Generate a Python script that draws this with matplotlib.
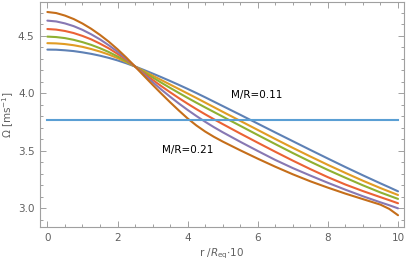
import matplotlib
matplotlib.use("Agg")
import matplotlib.pyplot as plt
from matplotlib.ticker import MultipleLocator

# ---- data ----
r = [0.0, 0.25, 0.5, 0.75, 1.0, 1.25, 1.5, 1.75, 2.0, 2.25, 2.5,
     2.75, 3.0, 3.25, 3.5, 3.75, 4.0, 4.25, 4.5, 4.75, 5.0,
     5.5, 6.0, 6.5, 7.0, 7.5, 8.0, 8.5, 9.0, 9.5, 9.75, 10.0]

omega_011 = [4.381, 4.380, 4.375, 4.368, 4.357, 4.344, 4.328, 4.309, 4.287, 4.262, 4.234,
             4.204, 4.173, 4.141, 4.108, 4.074, 4.039, 4.003, 3.966, 3.928, 3.890,
             3.814, 3.737, 3.660, 3.584, 3.508, 3.433, 3.359, 3.287, 3.217, 3.183, 3.148]
omega_013 = [4.437, 4.435, 4.429, 4.419, 4.405, 4.386, 4.364, 4.338, 4.307, 4.273, 4.234,
             4.194, 4.155, 4.116, 4.077, 4.038, 3.999, 3.960, 3.920, 3.880, 3.840,
             3.761, 3.682, 3.603, 3.526, 3.451, 3.378, 3.308, 3.240, 3.176, 3.146, 3.116]
omega_015 = [4.494, 4.490, 4.481, 4.466, 4.446, 4.422, 4.393, 4.360, 4.322, 4.280, 4.234,
             4.186, 4.139, 4.093, 4.048, 4.004, 3.961, 3.919, 3.878, 3.838, 3.798,
             3.718, 3.638, 3.559, 3.481, 3.406, 3.334, 3.266, 3.200, 3.138, 3.110, 3.082]
omega_017 = [4.560, 4.555, 4.543, 4.525, 4.500, 4.470, 4.433, 4.392, 4.344, 4.292, 4.234,
             4.175, 4.118, 4.063, 4.010, 3.959, 3.910, 3.863, 3.818, 3.775, 3.733,
             3.651, 3.571, 3.492, 3.415, 3.341, 3.271, 3.207, 3.150, 3.097, 3.071, 3.044]
omega_019 = [4.633, 4.626, 4.609, 4.585, 4.553, 4.514, 4.470, 4.419, 4.363, 4.301, 4.234,
             4.165, 4.098, 4.033, 3.971, 3.912, 3.856, 3.803, 3.753, 3.706, 3.662,
             3.579, 3.499, 3.421, 3.350, 3.285, 3.222, 3.162, 3.105, 3.052, 3.027, 3.000]
omega_021 = [4.708, 4.699, 4.677, 4.647, 4.608, 4.562, 4.509, 4.450, 4.384, 4.312, 4.234,
             4.154, 4.075, 3.998, 3.923, 3.851, 3.782, 3.721, 3.668, 3.622, 3.581,
             3.505, 3.432, 3.362, 3.296, 3.235, 3.180, 3.128, 3.080, 3.032, 2.995, 2.940]

hline_r = [0.0, 10.0]
hline_omega = [3.772, 3.772]

series = [omega_011, omega_013, omega_015, omega_017, omega_019, omega_021]
colors = ["#5E81B5", "#E19C24", "#8FB032", "#EB6235", "#8778B3", "#C56E1A"]

# ---- figure ----
fig = plt.figure(figsize=(4.07, 2.64), dpi=100)
ax = fig.add_axes([0.0983, 0.139, 0.8943, 0.8534])

for ys, c in zip(series, colors):
    ax.plot(r, ys, color=c, lw=1.5, solid_capstyle="round", solid_joinstyle="round")
ax.plot(hline_r, hline_omega, color="#5A9FD4", lw=1.5)

ax.set_xlim(-0.21, 10.17)
ax.set_ylim(2.835, 4.795)

frame_col = "#A0A0A0"
label_col = "#606060"
for s in ax.spines.values():
    s.set_color(frame_col)
    s.set_linewidth(0.8)

ax.xaxis.set_minor_locator(MultipleLocator(0.5))
ax.yaxis.set_minor_locator(MultipleLocator(0.1))
ax.set_xticks([0, 2, 4, 6, 8, 10])
ax.set_xticklabels(["0", "2", "4", "6", "8", "10"])
ax.set_yticks([3.0, 3.5, 4.0, 4.5])
ax.set_yticklabels(["3.0", "3.5", "4.0", "4.5"])

ax.tick_params(which="both", direction="in", top=True, right=True,
               color=frame_col, width=0.7, labelsize=7.5, labelcolor=label_col)
ax.tick_params(which="major", length=4, pad=4)
ax.tick_params(which="minor", length=2)

ax.set_ylabel(r"$\Omega$ [ms$^{-1}$]", fontsize=7.5, color=label_col)
ax.yaxis.set_label_coords(-0.066, 0.5)
ax.set_xlabel(r"r /$R_{\rm eq}$$\cdot$10", fontsize=7.5, color=label_col, labelpad=3)

ax.text(5.98, 3.989, "M/R=0.11", fontsize=7.5, color="black", ha="center", va="center")
ax.text(4.01, 3.506, "M/R=0.21", fontsize=7.5, color="black", ha="center", va="center")

fig.savefig("out.png", dpi=100)
